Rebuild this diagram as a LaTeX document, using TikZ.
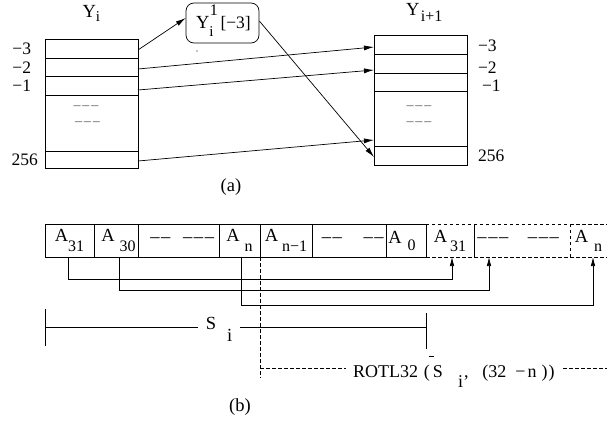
\documentclass[tikz,border=0pt]{standalone}
\usepackage{fontspec}
\setmainfont{Liberation Serif}
\usetikzlibrary{arrows.meta,calc}
\newcommand{\subsz}{\fontsize{16}{16}\selectfont}
\newcommand{\numsz}{\fontsize{17.5}{18}\selectfont}
\newcommand{\lowsub}[2]{\raisebox{-#1pt}{\subsz #2}}
\newcommand{\dsh}{\textendash\kern1.6pt}
\newcommand{\gdsh}{\textendash\kern2pt}
\begin{document}
\begin{tikzpicture}[x=1pt,y=-1pt,
  font=\fontsize{18.5}{20}\selectfont,
  reg/.style={draw, line width=0.7pt, minimum width=93, inner sep=0, outer sep=0},
  cell/.style={draw, line width=0.7pt, minimum height=33, inner sep=0, outer sep=0},
  dcell/.style={cell, dash pattern=on 3.5pt off 2.5pt},
  ocell/.style={minimum height=33, inner sep=0, outer sep=0},
  arr/.style={line width=0.7pt, -{Latex[length=10pt,width=5pt]}},
  arrb/.style={line width=0.7pt, -{Latex[length=9pt,width=4.5pt]}},
  conn/.style={line width=0.7pt},
  dshline/.style={line width=0.7pt, dash pattern=on 3.5pt off 2.5pt},
  lbl/.style={inner sep=0, outer sep=0},
  nlbl/.style={lbl, font=\numsz},
  gdash/.style={inner sep=0, text=black!65, font=\fontsize{14}{14}\selectfont}
]
\useasboundingbox (0,0) rectangle (607,423);

% ---------- part (a) ----------
% Y_i register
\node[reg, minimum height=19] (a3) at (91.5,48.5) {};
\node[reg, minimum height=18] (a2) at (91.5,67) {};
\node[reg, minimum height=19] (a1) at (91.5,85.5) {};
\node[reg, minimum height=56] (am) at (91.5,123) {};
\node[reg, minimum height=17] (a256) at (91.5,159.5) {};
\node[gdash] (ad1) at (87,108) {\gdsh\gdsh\gdsh};
\node[gdash] (ad2) at (88.5,124) {\gdsh\gdsh\gdsh};

% Y_{i+1} register
\node[reg, minimum height=19] (b3) at (420.5,44.5) {};
\node[reg, minimum height=19] (b2) at (420.5,63.5) {};
\node[reg, minimum height=18] (b1) at (420.5,82) {};
\node[reg, minimum height=55] (bm) at (420.5,118.5) {};
\node[reg, minimum height=19] (b256) at (420.5,155.5) {};
\node[gdash] (bd1) at (420,108) {\gdsh\gdsh\gdsh};
\node[gdash] (bd2) at (420,124) {\gdsh\gdsh\gdsh};

% labels
\node[nlbl, anchor=east] (la3) at (31,49) {−3};
\node[nlbl, anchor=east] (la2) at (31,68) {−2};
\node[nlbl, anchor=east] (la1) at (31,86) {−1};
\node[nlbl, anchor=east] (la256) at (38,160) {256};
\node[nlbl, anchor=west] (lb3) at (478,46) {−3};
\node[nlbl, anchor=west] (lb2) at (478,68) {−2};
\node[nlbl, anchor=west] (lb1) at (482,86) {−1};
\node[nlbl, anchor=west] (lb256) at (478,156) {256};

\node[lbl, anchor=base west] (ty) at (82.5,17) {Y\raisebox{-4pt}{\fontsize{15}{15}\selectfont i}};
\node[lbl, anchor=base west] (ty1) at (406,15) {Y\hspace{1.5pt}\raisebox{-6pt}{\subsz i+1}};

% rounded box
\node[draw, line width=0.7pt, rounded corners=8pt, minimum width=73, minimum height=40, inner sep=0] (rb) at (222.5,23) {};
\node[lbl, anchor=base west] (rbt) at (196,28) {Y\rlap{\raisebox{13pt}{\subsz\hspace{0.5pt}1}}\raisebox{-8pt}{\fontsize{15}{15}\selectfont i}\hspace{7pt}{\numsz[−3]}};
\fill (197,51) circle (0.7);

% arrows (a)
\draw[arr] ([yshift=-1.5pt]a3.east) -- ([yshift=5pt]rb.west);
\draw[arr] ([yshift=-2pt]a2.east) -- ([yshift=-2.5pt]b3.west);
\draw[arr] ([yshift=-4.5pt]a1.east) -- ([yshift=-6.5pt]b2.west);
\draw[arr] ([yshift=-1.5pt]a256.east) -- ([yshift=-21.5pt]bm.west);
\draw[arr] ([yshift=2pt]rb.east) -- ([yshift=-1.5pt]b256.west);

\node[lbl] (capa) at (231,187.5) {(a)};

% ---------- part (b) ----------
\node[dcell, minimum width=48] (d1) at (450,240.5) {A\hspace{3pt}\lowsub{9}{31}};
\node[dcell, minimum width=96] (d2) at (522,240.5) {\hspace{-6pt}\dsh\dsh\dsh\hspace{18pt}\dsh\dsh\dsh};
\node[ocell, minimum width=37] (d3) at (588.5,240.5) {A\hspace{6pt}\lowsub{9}{n}};
\draw[dshline] (d2.north east) -- (d3.north east);
\draw[dshline] (d2.south east) -- (d3.south east);

\node[cell, minimum width=49] (c1) at (69.5,240.5) {A\lowsub{10}{31}};
\node[cell, minimum width=44] (c2) at (116,240.5) {\hspace{5pt}A\hspace{5pt}\lowsub{10}{30}};
\node[cell, minimum width=81] (c3) at (178.5,240.5) {\hspace{9pt}\dsh\dsh\hspace{11pt}\dsh\dsh\dsh};
\node[cell, minimum width=41] (c4) at (239.5,240.5) {A\hspace{5pt}\lowsub{10}{n}};
\node[cell, minimum width=52] (c5) at (286,240.5) {A\hspace{4pt}\lowsub{10}{n−1}};
\node[cell, minimum width=74] (c6) at (349,240.5) {\hspace{9pt}\dsh\dsh\hspace{20pt}\dsh\dsh};
\node[cell, minimum width=40] (c7) at (406,240.5) {\hspace{-8pt}A\hspace{6pt}\lowsub{7}{0}};

% connectors (b)
\draw[arrb] ([xshift=-1.5pt]c1.south) -- ++(0,22) -| ([xshift=2pt]d1.south);
\draw[arrb] ([xshift=3pt]c2.south) -- ++(0,33) -| ([xshift=-33pt]d2.south);
\draw[arrb] ([xshift=1.5pt]c4.south) -- ++(0,48) -| ([xshift=4.5pt]d3.south);

% S_i bracket
\coordinate (sl) at (45,327);
\coordinate (sr) at (426,327);
\node[lbl, anchor=base, inner xsep=8pt] (si) at (219,329) {S\hspace{11pt}\raisebox{-12pt}{i}};
\draw[conn] (sl) -- (si.west |- sl);
\draw[conn] (si.east |- sr) -- (sr);
\draw[conn] (45,309) -- (45,346);
\draw[conn] (426,313) -- (426,349);

% rotation
\draw[dshline] (c5.south west) -- ++(0,121);
\coordinate (rl) at (346,368);
\coordinate (rr) at (563,368);
\coordinate (re) at (607,368);
\draw[dshline] (c5.south west |- rl) -- (rl);
\draw[dshline] (rr) -- (re);
\node[lbl, anchor=base west, font=\fontsize{18}{20}\selectfont] (rot) at (353,377) {ROTL32\hspace{6pt}(\hspace{3pt}S\hspace{15pt}\raisebox{-10pt}{i}\hspace{1pt},\hspace{14pt}(32\hspace{9pt}−\hspace{2pt}n\hspace{5pt})\hspace{1pt})};
\draw[line width=0.6pt] (429,356) -- (434,356);

\node[lbl] (capb) at (240,407.5) {(b)};
\end{tikzpicture}
\end{document}
